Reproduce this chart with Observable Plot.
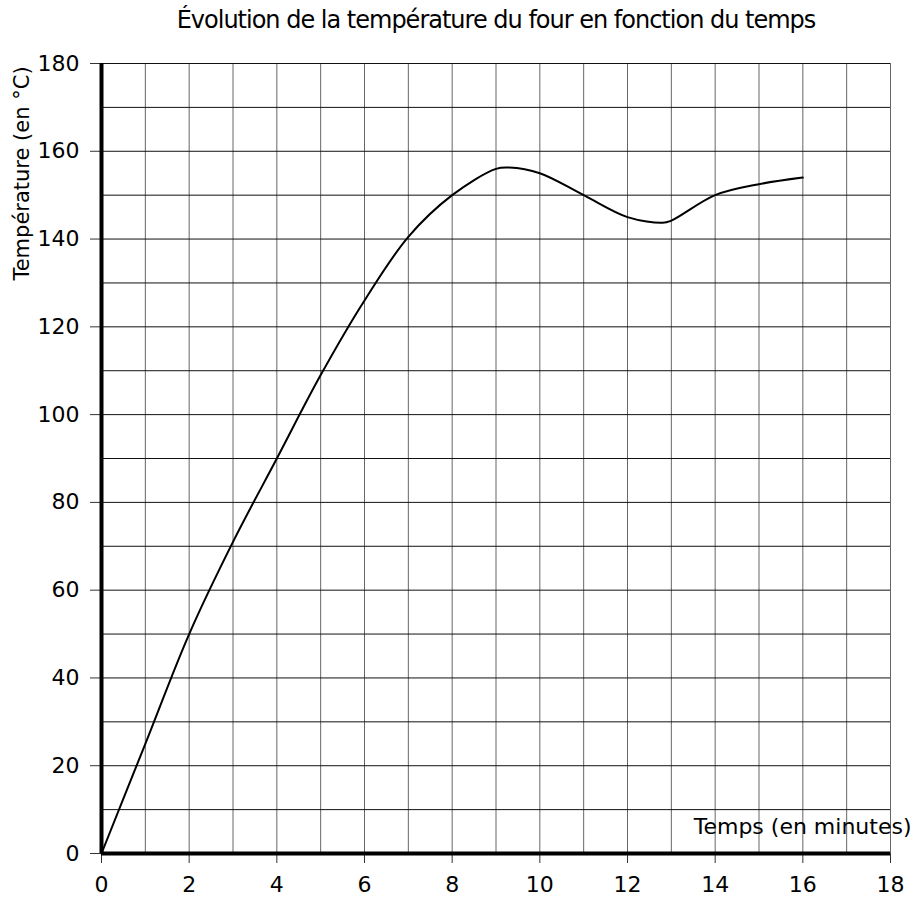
<!DOCTYPE html>
<html>
<head>
<meta charset="utf-8">
<script src="https://cdn.jsdelivr.net/npm/d3@7"></script>
<script src="https://cdn.jsdelivr.net/npm/@observablehq/plot@0.6"></script>
<style>
  body { margin: 0; background: #fff; }
  svg { font-family: "DejaVu Sans", sans-serif; }
</style>
</head>
<body>
<div id="chart"></div>
<script>
const title = "Évolution de la température du four en fonction du temps";
const xLabel = "Temps (en minutes)";
const yLabel = "Température (en °C)";
const minutes = [0, 1, 2, 3, 4, 5, 6, 7, 8, 9, 9.3, 10, 11, 12, 12.8, 13, 14, 15, 16];
const temps   = [0, 25, 50, 71, 90, 109, 126, 140.5, 150, 156, 156.3, 155, 150, 145, 143.7, 144.2, 150, 152.5, 154];
const xTicks = [0, 2, 4, 6, 8, 10, 12, 14, 16, 18];
const yTicks = [0, 20, 40, 60, 80, 100, 120, 140, 160, 180];
const xGrid = d3.range(0, 19, 1);
const yGrid = d3.range(0, 190, 10);

const data = minutes.map((m, i) => ({m, t: temps[i]}));

const chart = Plot.plot({
  width: 915,
  height: 897,
  marginTop: 63,
  marginLeft: 101,
  marginRight: 25,
  marginBottom: 44,
  style: {fontFamily: "DejaVu Sans, sans-serif", background: "#fff", overflow: "visible"},
  x: {domain: [0, 18]},
  y: {domain: [0, 180]},
  marks: [
    Plot.ruleX(xGrid, {stroke: "#666", strokeWidth: 1}),
    Plot.ruleY(yGrid, {stroke: "#111", strokeWidth: 1}),
    Plot.axisX(xTicks, {tickSize: 10, tickPadding: 13, fontSize: 22, label: null, stroke: "#333", fill: "#000"}),
    Plot.axisY(yTicks, {tickSize: 11, tickPadding: 11, fontSize: 22, label: null, stroke: "#333", fill: "#000"}),
    Plot.ruleX([0], {stroke: "#000", strokeWidth: 4}),
    Plot.ruleY([0], {stroke: "#000", strokeWidth: 4}),
    Plot.line(data, {x: "m", y: "t", curve: "catmull-rom", stroke: "#000", strokeWidth: 2}),
    Plot.text([title], {frameAnchor: "top", lineAnchor: "top", dy: -53, fontSize: 24, fill: "#000", className: "ttl"}),
    Plot.text([xLabel], {frameAnchor: "bottom-right", lineAnchor: "middle", textAnchor: "end", dx: 21, dy: -27, fontSize: 22, fill: "#000"}),
    Plot.text([yLabel], {frameAnchor: "top-left", lineAnchor: "middle", textAnchor: "middle", dx: -79, dy: 110, rotate: -90, fontSize: 21, fill: "#000"})
  ]
});
chart.querySelectorAll(".ttl text").forEach(t => t.setAttribute("letter-spacing", "-1"));
document.getElementById("chart").appendChild(chart);
</script>
</body>
</html>
